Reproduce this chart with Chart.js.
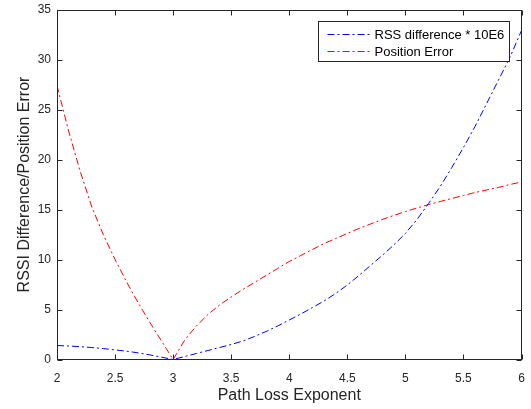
<!DOCTYPE html>
<html><head><meta charset="utf-8">
<script src="https://cdn.jsdelivr.net/npm/chart.js@4.4.0/dist/chart.umd.min.js"></script>
<style>html,body{margin:0;padding:0;background:#fff;}#wrap{width:531px;height:409px;}</style>
</head><body><div id="wrap"><canvas id="c" width="531" height="409"></canvas></div>
<script>
const xValues = [2.0,2.1,2.2,2.3,2.4,2.5,2.6,2.7,2.8,2.9,3.0,3.1,3.2,3.3,3.4,3.5,3.6,3.7,3.8,3.9,4.0,4.1,4.2,4.3,4.4,4.5,4.6,4.7,4.8,4.9,5.0,5.1,5.2,5.3,5.4,5.5,5.6,5.7,5.8,5.9,6.0];
const rssDifference = [1.40,1.35,1.28,1.20,1.09,0.96,0.83,0.66,0.46,0.23,0.00,0.30,0.60,0.90,1.20,1.50,1.85,2.30,2.80,3.35,3.95,4.55,5.20,5.85,6.60,7.45,8.40,9.40,10.40,11.45,12.60,14.00,15.60,17.30,19.20,21.20,23.30,25.60,27.90,30.20,32.90];
const positionError = [27.4,22.85,18.8,15.25,12.45,10.0,7.75,5.65,3.7,1.85,0.0,1.95,3.35,4.5,5.45,6.25,7.0,7.7,8.4,9.1,9.8,10.4,11.0,11.6,12.1,12.6,13.1,13.55,14.0,14.4,14.8,15.15,15.5,15.8,16.1,16.4,16.7,16.95,17.2,17.5,17.75];
const seriesLabels = ['RSS difference * 10E6', 'Position Error'];
const seriesColors = ['#0000ff', '#ff0000'];
const xTicks = [2,2.5,3,3.5,4,4.5,5,5.5,6];
const yTicks = [0,5,10,15,20,25,30,35];
const xTitle = 'Path Loss Exponent';
const yTitle = 'RSSI Difference/Position Error';

const FONT = "'Liberation Sans', Arial, Helvetica, sans-serif";
const AXC = '#262626';
const DASH = [7,3,2,3];

const toPts = arr => xValues.map((x,i)=>({x:x, y:arr[i]}));

const framePlugin = {
  id: 'frame',
  afterDatasetsDraw(chart){
    const {ctx, chartArea:a, scales:{x, y}} = chart;
    ctx.save();
    ctx.strokeStyle = AXC; ctx.lineWidth = 1; ctx.setLineDash([]);
    const L = Math.round(a.left)+0.5, R = Math.round(a.right)-0.5, T = Math.round(a.top)+0.5, B = Math.round(a.bottom)-0.5;
    ctx.strokeRect(L, T, R-L, B-T);
    ctx.beginPath();
    x.ticks.forEach(t=>{
      const px = Math.round(x.getPixelForValue(t.value))+0.5;
      ctx.moveTo(px,B); ctx.lineTo(px,B-5);
      ctx.moveTo(px,T); ctx.lineTo(px,T+5);
    });
    y.ticks.forEach(t=>{
      const py = Math.round(y.getPixelForValue(t.value))+0.5;
      ctx.moveTo(L,py); ctx.lineTo(L+5,py);
      ctx.moveTo(R,py); ctx.lineTo(R-5,py);
    });
    ctx.stroke();
    // legend
    const bx = Math.round(a.right - 204) + 0.5, by = Math.round(a.top + 11) + 0.5, bw = 191, bh = 40;
    ctx.fillStyle = '#fff';
    ctx.fillRect(bx, by, bw, bh);
    ctx.strokeStyle = AXC;
    ctx.strokeRect(bx, by, bw, bh);
    chart.data.datasets.forEach((ds, i)=>{
      const ly = Math.round(by + 12 + i*17.5) + 0.5;
      ctx.strokeStyle = ds.borderColor;
      ctx.setLineDash(DASH);
      ctx.beginPath(); ctx.moveTo(bx+9, ly); ctx.lineTo(bx+53, ly); ctx.stroke();
      ctx.setLineDash([]);
      ctx.fillStyle = '#000';
      ctx.font = '13px ' + FONT;
      ctx.textBaseline = 'middle'; ctx.textAlign = 'left';
      ctx.fillText(ds.label, bx+56, ly+0.5);
    });
    ctx.restore();
  }
};

new Chart(document.getElementById('c'), {
  type: 'line',
  data: {
    datasets: [
      {label: seriesLabels[0], data: toPts(rssDifference), borderColor: seriesColors[0], backgroundColor: seriesColors[0], borderWidth: 1, borderDash: DASH, pointRadius: 0, fill: false, tension: 0},
      {label: seriesLabels[1], data: toPts(positionError), borderColor: seriesColors[1], backgroundColor: seriesColors[1], borderWidth: 1, borderDash: DASH, pointRadius: 0, fill: false, tension: 0}
    ]
  },
  options: {
    responsive: false,
    animation: false,
    events: [],
    layout: {padding: {top: 9.5, right: 9.5, left: 0, bottom: 0}},
    plugins: {legend: {display: false}, tooltip: {enabled: false}},
    scales: {
      x: {
        type: 'linear', min: 2, max: 6,
        afterBuildTicks: s => { s.ticks = xTicks.map(v=>({value:v})); },
        afterFit: s => { s.height = 49.5; s.paddingLeft = 0; s.paddingRight = 0; },
        grid: {display: false, drawTicks: false},
        border: {display: false},
        ticks: {color: AXC, font: {family: FONT, size: 12}, padding: 12, maxRotation: 0, autoSkip: false, callback: v => String(Number(v))},
        title: {display: true, text: xTitle, color: AXC, font: {family: FONT, size: 16}, padding: {top: 0, bottom: 4}}
      },
      y: {
        type: 'linear', min: 0, max: 35,
        afterBuildTicks: s => { s.ticks = yTicks.map(v=>({value:v})); },
        afterFit: s => { s.width = 57; s.paddingTop = 0; s.paddingBottom = 0; },
        grid: {display: false, drawTicks: false},
        border: {display: false},
        ticks: {color: AXC, font: {family: FONT, size: 12}, padding: 6, autoSkip: false, callback: v => String(Number(v))},
        title: {display: true, text: yTitle, color: AXC, font: {family: FONT, size: 16}, padding: {top: 15, bottom: 0}}
      }
    }
  },
  plugins: [framePlugin]
});
</script></body></html>
